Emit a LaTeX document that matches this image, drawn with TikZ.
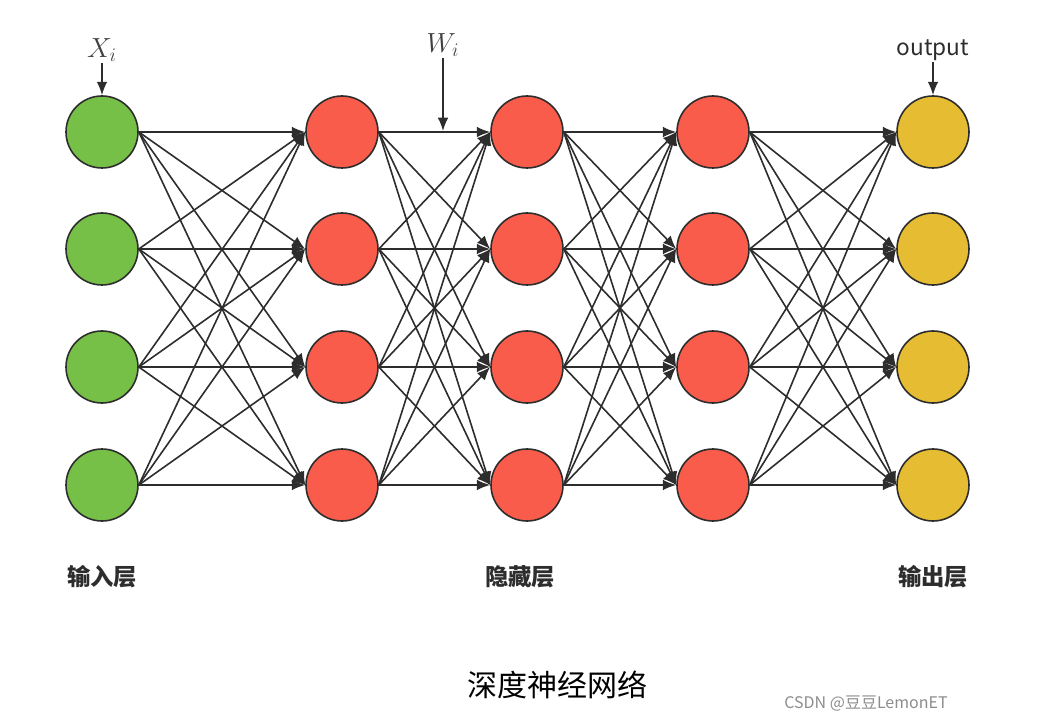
\documentclass[tikz,border=0pt]{standalone}
\usepackage{fontspec}
\usetikzlibrary{arrows.meta,positioning}
\newfontfamily\cjk{Noto Sans CJK SC}
\definecolor{ingreen}{RGB}{118,192,72}
\definecolor{hidred}{RGB}{249,92,75}
\definecolor{outyellow}{RGB}{229,188,50}
\definecolor{inkgray}{RGB}{45,45,45}

\begin{document}
\begin{tikzpicture}[
    x=0.75pt, y=-0.75pt,
    neuron/.style={circle, draw=inkgray, line width=1.2pt, minimum size=54pt, inner sep=0pt},
    inneuron/.style={neuron, fill=ingreen},
    hidneuron/.style={neuron, fill=hidred},
    outneuron/.style={neuron, fill=outyellow},
    line/.style={draw=inkgray, line width=1.2pt, -{Latex[length=10pt,width=8pt]}},
    layerlabel/.style={font={\cjk\bfseries\fontsize{17.5}{20}\selectfont}, text=inkgray},
    mathlabel/.style={font=\fontsize{21}{25}\selectfont, text=black!75, inner sep=1pt}
]
    \useasboundingbox (0,0) rectangle (1057,720);

    % Nodes
    \foreach \r/\y in {1/132, 2/249, 3/367, 4/485} {
        \node [inneuron] (in\r) at (102,\y) {};
        \node [hidneuron] (ha\r) at (342,\y) {};
        \node [hidneuron] (hb\r) at (527,\y) {};
        \node [hidneuron] (hc\r) at (713,\y) {};
        \node [outneuron] (out\r) at (933,\y) {};
    }

    % Labels
    \node [mathlabel] (xlab) at (102,50) {$X_i$};
    \node [mathlabel] (wlab) at (443,45) {$W_i$};
    \coordinate (wtip) at (443,131);
    \node [font={\cjk\fontsize{17}{20}\selectfont}, text=inkgray, inner sep=1pt] (olab) at (933,50) {output};
    \node [layerlabel] (inlab) at (102,577) {输入层};
    \node [layerlabel] (hidlab) at (520,577) {隐藏层};
    \node [layerlabel] (outlab) at (933,577) {输出层};
    \node [font={\cjk\fontsize{22.5}{26}\selectfont}, text=black] (title) at (557,685) {深度神经网络};
    \node [font={\cjk\fontsize{12}{14}\selectfont}, text=black!45] (mark) at (866,704) {CSDN @豆豆LemonET};

    % Paths
    \foreach \i in {1,...,4}
        \foreach \j in {1,...,4} {
            \path [line] (in\i.east) -- (ha\j.west);
            \path [line] (ha\i.east) -- (hb\j.west);
            \path [line] (hb\i.east) -- (hc\j.west);
            \path [line] (hc\i.east) -- (out\j.west);
        }
    \path [line] (xlab.south) -- (in1.north);
    \path [line] (wlab.south) -- (wtip);
    \path [line] (olab.south) -- (out1.north);

\end{tikzpicture}
\end{document}
